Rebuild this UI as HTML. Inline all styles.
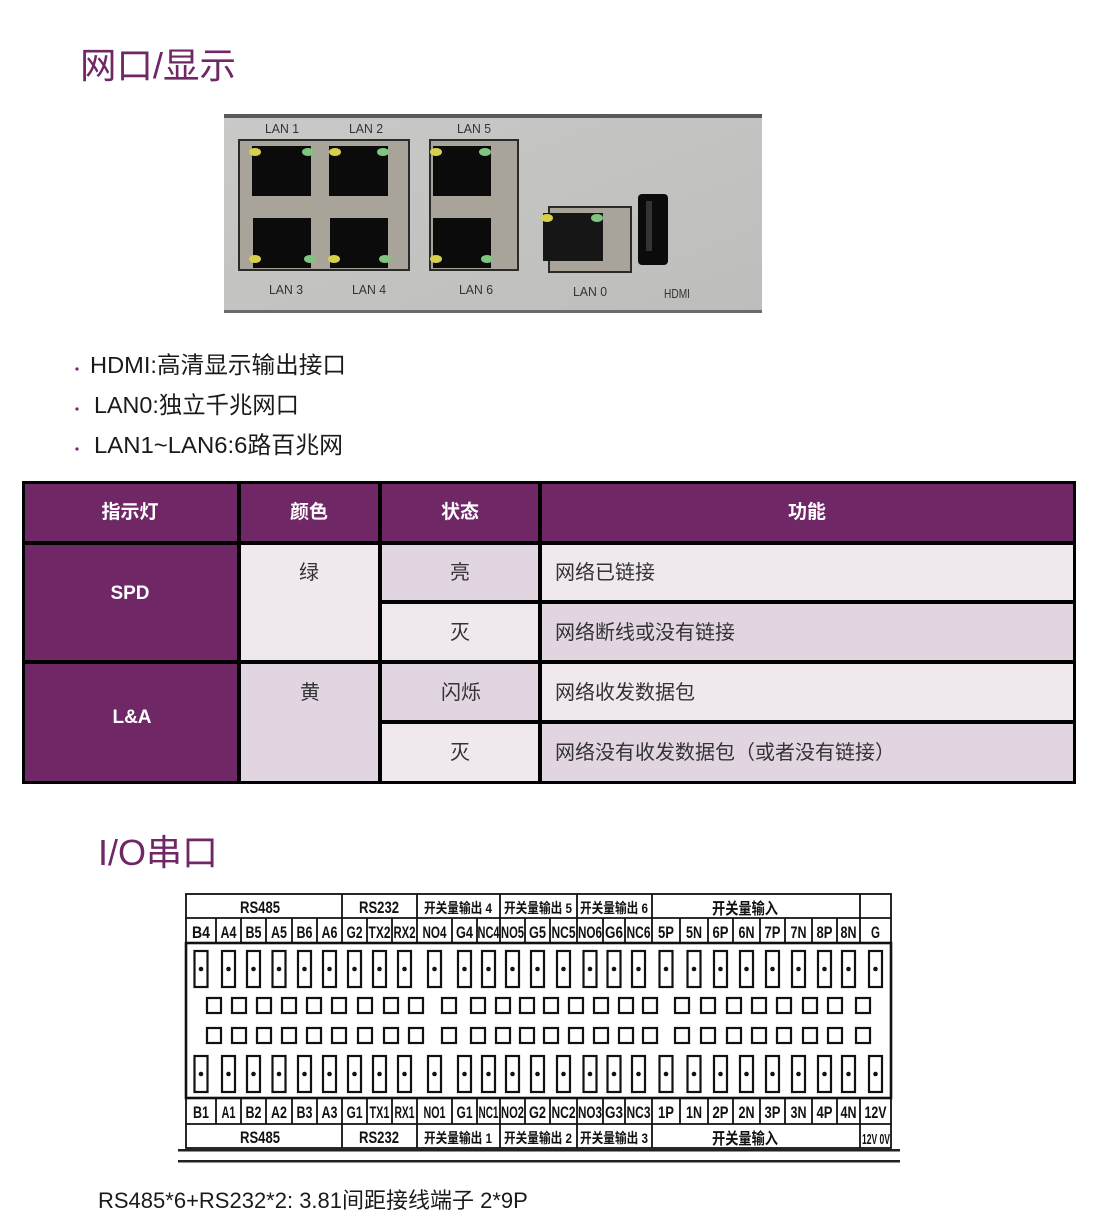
<!DOCTYPE html>
<html><head><meta charset="utf-8"><style>
html,body{margin:0;padding:0;background:#fff}
body{width:1095px;height:1231px;position:relative;overflow:hidden;font-family:"Liberation Sans","Noto Sans CJK SC",sans-serif}
</style></head><body>
<svg width="1095" height="1231" viewBox="0 0 1095 1231" xmlns="http://www.w3.org/2000/svg" style="position:absolute;left:0;top:0">
<defs>
<linearGradient id="pg" x1="0" y1="0" x2="1" y2="1"><stop offset="0" stop-color="#c9c9c7"/><stop offset="1" stop-color="#bdbdbb"/></linearGradient>
<g id="t"><rect x="-6.5" y="0" width="13" height="36" fill="#fff" stroke="#111" stroke-width="2.2"/><circle cx="0" cy="18" r="2.3" fill="#111"/></g>
<g id="s"><rect x="-7" y="0" width="14" height="15" fill="#fff" stroke="#111" stroke-width="2.2"/></g>
</defs>
<text x="80" y="78" font-size="36" fill="#6f2766" font-family="Liberation Sans, Noto Sans CJK SC, sans-serif" textLength="156" lengthAdjust="spacingAndGlyphs">网口/显示</text>
<text x="98" y="865" font-size="36" fill="#6f2766" font-family="Liberation Sans, Noto Sans CJK SC, sans-serif">I/O串口</text>
<rect x="224" y="114" width="538" height="199" fill="url(#pg)"/>
<rect x="224" y="114" width="538" height="4" fill="#5a5a5a"/>
<rect x="224" y="310" width="538" height="3" fill="#6a6a6a"/>
<g font-family="Liberation Sans, sans-serif" font-size="13" fill="#333" text-anchor="middle">
<text x="282" y="133" textLength="34" lengthAdjust="spacingAndGlyphs">LAN 1</text>
<text x="366" y="133" textLength="34" lengthAdjust="spacingAndGlyphs">LAN 2</text>
<text x="474" y="133" textLength="34" lengthAdjust="spacingAndGlyphs">LAN 5</text>
<text x="286" y="294" textLength="34" lengthAdjust="spacingAndGlyphs">LAN 3</text>
<text x="369" y="294" textLength="34" lengthAdjust="spacingAndGlyphs">LAN 4</text>
<text x="476" y="294" textLength="34" lengthAdjust="spacingAndGlyphs">LAN 6</text>
<text x="590" y="296" textLength="34" lengthAdjust="spacingAndGlyphs">LAN 0</text>
<text x="677" y="298" textLength="26" lengthAdjust="spacingAndGlyphs">HDMI</text>
</g>
<rect x="239" y="140" width="170" height="130" fill="#a8a49a" stroke="#2a2a2a" stroke-width="2"/>
<rect x="430" y="140" width="88" height="130" fill="#a8a49a" stroke="#2a2a2a" stroke-width="2"/>
<rect x="549" y="207" width="82" height="65" fill="#a8a49a" stroke="#2a2a2a" stroke-width="2"/>
<g fill="#0b0b0b">
<rect x="252" y="146" width="59" height="50"/><rect x="329" y="146" width="59" height="50"/>
<rect x="253" y="218" width="58" height="50"/><rect x="330" y="218" width="58" height="50"/>
<rect x="433" y="146" width="58" height="50"/><rect x="433" y="218" width="58" height="50"/>
<rect x="543" y="213" width="60" height="48" fill="#161616"/>
<rect x="638" y="194" width="30" height="71" rx="4"/>
</g>
<rect x="646" y="201" width="6" height="50" fill="#333"/>
<g fill="#d8d04a"><ellipse cx="255" cy="152" rx="6" ry="4"/><ellipse cx="335" cy="152" rx="6" ry="4"/><ellipse cx="436" cy="152" rx="6" ry="4"/><ellipse cx="255" cy="259" rx="6" ry="4"/><ellipse cx="334" cy="259" rx="6" ry="4"/><ellipse cx="436" cy="259" rx="6" ry="4"/><ellipse cx="547" cy="218" rx="6" ry="4"/></g>
<g fill="#7fc47f"><ellipse cx="308" cy="152" rx="6" ry="4"/><ellipse cx="383" cy="152" rx="6" ry="4"/><ellipse cx="485" cy="152" rx="6" ry="4"/><ellipse cx="310" cy="259" rx="6" ry="4"/><ellipse cx="385" cy="259" rx="6" ry="4"/><ellipse cx="487" cy="259" rx="6" ry="4"/><ellipse cx="597" cy="218" rx="6" ry="4"/></g>
<g fill="#6f2766"><circle cx="77" cy="369" r="1.6"/><circle cx="77" cy="409" r="1.6"/><circle cx="77" cy="449" r="1.6"/></g>
<g font-size="23.5" fill="#1a1a1a" font-family="Liberation Sans, Noto Sans CJK SC, sans-serif">
<text x="90" y="373" textLength="256" lengthAdjust="spacingAndGlyphs">HDMI:高清显示输出接口</text>
<text x="94" y="413" textLength="205" lengthAdjust="spacingAndGlyphs">LAN0:独立千兆网口</text>
<text x="94" y="453" textLength="249" lengthAdjust="spacingAndGlyphs">LAN1~LAN6:6路百兆网</text>
</g>
<rect x="22" y="481" width="1054" height="303" fill="#000"/>
<g fill="#6f2766">
<rect x="25" y="484" width="212" height="57"/><rect x="241" y="484" width="137" height="57"/><rect x="382" y="484" width="156" height="57"/><rect x="542" y="484" width="531" height="57"/>
<rect x="25" y="545" width="212" height="115"/><rect x="25" y="664" width="212" height="117"/>
</g>
<g fill="#f0e8ef"><rect x="241" y="545" width="137" height="115"/><rect x="542" y="545" width="531" height="55"/><rect x="382" y="604" width="156" height="56"/><rect x="542" y="664" width="531" height="56"/><rect x="382" y="724" width="156" height="57"/></g>
<g fill="#e2d5e2"><rect x="382" y="545" width="156" height="55"/><rect x="542" y="604" width="531" height="56"/><rect x="241" y="664" width="137" height="117"/><rect x="382" y="664" width="156" height="56"/><rect x="542" y="724" width="531" height="57"/></g>
<g font-family="Liberation Sans, Noto Sans CJK SC, sans-serif" font-weight="bold" font-size="19" fill="#fff" text-anchor="middle">
<text x="130" y="518">指示灯</text><text x="309" y="518">颜色</text><text x="460" y="518">状态</text><text x="807" y="518">功能</text>
<text x="130" y="599">SPD</text><text x="132" y="723">L&amp;A</text>
</g>
<g font-family="Liberation Sans, Noto Sans CJK SC, sans-serif" font-size="20" fill="#333">
<g text-anchor="middle"><text x="309" y="579">绿</text><text x="310" y="699">黄</text><text x="460" y="579">亮</text><text x="460" y="639">灭</text><text x="461" y="699">闪烁</text><text x="460" y="759">灭</text></g>
<text x="555" y="579">网络已链接</text><text x="555" y="639">网络断线或没有链接</text><text x="555" y="699">网络收发数据包</text><text x="555" y="759">网络没有收发数据包（或者没有链接）</text>
</g>
<g stroke="#111" fill="none" stroke-width="1.8">
<rect x="186" y="894" width="705" height="254"/>
<line x1="186" y1="918" x2="891" y2="918"/><line x1="186" y1="1124" x2="891" y2="1124"/>
<rect x="186" y="943" width="705" height="155" stroke-width="2.6"/>
<path d="M342 894V918M417 894V918M500 894V918M577 894V918M652 894V918M860 894V918M342 1124V1148M417 1124V1148M500 1124V1148M577 1124V1148M652 1124V1148M860 1124V1148"/>
<path d="M216 918V943M241 918V943M266 918V943M292 918V943M317 918V943M342 918V943M367 918V943M392 918V943M417 918V943M452 918V943M477 918V943M500 918V943M525 918V943M550 918V943M577 918V943M603 918V943M625 918V943M652 918V943M680 918V943M708 918V943M733 918V943M760 918V943M785 918V943M812 918V943M837 918V943M860 918V943"/>
<path d="M216 1098V1124M241 1098V1124M266 1098V1124M292 1098V1124M317 1098V1124M342 1098V1124M367 1098V1124M392 1098V1124M417 1098V1124M452 1098V1124M477 1098V1124M500 1098V1124M525 1098V1124M550 1098V1124M577 1098V1124M603 1098V1124M625 1098V1124M652 1098V1124M680 1098V1124M708 1098V1124M733 1098V1124M760 1098V1124M785 1098V1124M812 1098V1124M837 1098V1124M860 1098V1124"/>
</g>
<rect x="178" y="1149" width="722" height="2.5" fill="#222"/>
<rect x="178" y="1160" width="722" height="2.5" fill="#222"/>
<g id="row1">
<use href="#t" x="201" y="951"/><use href="#t" x="228.5" y="951"/><use href="#t" x="253.5" y="951"/><use href="#t" x="279" y="951"/><use href="#t" x="304.5" y="951"/><use href="#t" x="329.5" y="951"/><use href="#t" x="354.5" y="951"/><use href="#t" x="379.5" y="951"/><use href="#t" x="404.5" y="951"/><use href="#t" x="434.5" y="951"/><use href="#t" x="464.5" y="951"/><use href="#t" x="488.5" y="951"/><use href="#t" x="512.5" y="951"/><use href="#t" x="537.5" y="951"/><use href="#t" x="563.5" y="951"/><use href="#t" x="590" y="951"/><use href="#t" x="614" y="951"/><use href="#t" x="638.5" y="951"/><use href="#t" x="666" y="951"/><use href="#t" x="694" y="951"/><use href="#t" x="720.5" y="951"/><use href="#t" x="746.5" y="951"/><use href="#t" x="772.5" y="951"/><use href="#t" x="798.5" y="951"/><use href="#t" x="824.5" y="951"/><use href="#t" x="848.5" y="951"/><use href="#t" x="875.5" y="951"/>
</g>
<use href="#row1" x="0" y="105"/>
<g id="row2">
<use href="#s" x="214" y="998"/><use href="#s" x="239" y="998"/><use href="#s" x="264" y="998"/><use href="#s" x="289" y="998"/><use href="#s" x="314" y="998"/><use href="#s" x="339" y="998"/><use href="#s" x="365" y="998"/><use href="#s" x="391" y="998"/><use href="#s" x="416" y="998"/><use href="#s" x="449" y="998"/><use href="#s" x="478" y="998"/><use href="#s" x="503" y="998"/><use href="#s" x="527" y="998"/><use href="#s" x="551" y="998"/><use href="#s" x="576" y="998"/><use href="#s" x="601" y="998"/><use href="#s" x="626" y="998"/><use href="#s" x="650" y="998"/><use href="#s" x="682" y="998"/><use href="#s" x="708" y="998"/><use href="#s" x="734" y="998"/><use href="#s" x="759" y="998"/><use href="#s" x="784" y="998"/><use href="#s" x="810" y="998"/><use href="#s" x="835" y="998"/><use href="#s" x="863" y="998"/>
</g>
<use href="#row2" x="0" y="30"/>
<g font-family="Liberation Sans, Noto Sans CJK SC, sans-serif" font-weight="bold" font-size="17" fill="#111" text-anchor="middle">
<text x="260" y="913" textLength="40" lengthAdjust="spacingAndGlyphs">RS485</text>
<text x="379" y="913" textLength="40" lengthAdjust="spacingAndGlyphs">RS232</text>
<text x="458" y="913" textLength="68" lengthAdjust="spacingAndGlyphs" font-size="14">开关量输出 4</text>
<text x="538" y="913" textLength="68" lengthAdjust="spacingAndGlyphs" font-size="14">开关量输出 5</text>
<text x="614" y="913" textLength="68" lengthAdjust="spacingAndGlyphs" font-size="14">开关量输出 6</text>
<text x="745" y="914" textLength="66" lengthAdjust="spacingAndGlyphs" font-size="16">开关量输入</text>
<text x="260" y="1143" textLength="40" lengthAdjust="spacingAndGlyphs">RS485</text>
<text x="379" y="1143" textLength="40" lengthAdjust="spacingAndGlyphs">RS232</text>
<text x="458" y="1143" textLength="68" lengthAdjust="spacingAndGlyphs" font-size="14">开关量输出 1</text>
<text x="538" y="1143" textLength="68" lengthAdjust="spacingAndGlyphs" font-size="14">开关量输出 2</text>
<text x="614" y="1143" textLength="68" lengthAdjust="spacingAndGlyphs" font-size="14">开关量输出 3</text>
<text x="745" y="1144" textLength="66" lengthAdjust="spacingAndGlyphs" font-size="16">开关量输入</text>
<text x="876" y="1144" textLength="28" lengthAdjust="spacingAndGlyphs" font-size="15">12V 0V</text>
</g>
<g font-family="Liberation Sans, sans-serif" font-weight="bold" font-size="17" fill="#111" text-anchor="middle">
<text x="201" y="938" textLength="18" lengthAdjust="spacingAndGlyphs">B4</text><text x="228.5" y="938" textLength="16" lengthAdjust="spacingAndGlyphs">A4</text><text x="253.5" y="938" textLength="16" lengthAdjust="spacingAndGlyphs">B5</text><text x="279" y="938" textLength="16" lengthAdjust="spacingAndGlyphs">A5</text><text x="304.5" y="938" textLength="16" lengthAdjust="spacingAndGlyphs">B6</text><text x="329.5" y="938" textLength="16" lengthAdjust="spacingAndGlyphs">A6</text><text x="354.5" y="938" textLength="16" lengthAdjust="spacingAndGlyphs">G2</text><text x="379.5" y="938" textLength="22" lengthAdjust="spacingAndGlyphs">TX2</text><text x="404.5" y="938" textLength="22" lengthAdjust="spacingAndGlyphs">RX2</text><text x="434.5" y="938" textLength="24" lengthAdjust="spacingAndGlyphs">NO4</text><text x="464.5" y="938" textLength="17" lengthAdjust="spacingAndGlyphs">G4</text><text x="488.5" y="938" textLength="22" lengthAdjust="spacingAndGlyphs">NC4</text><text x="512.5" y="938" textLength="23" lengthAdjust="spacingAndGlyphs">NO5</text><text x="537.5" y="938" textLength="17" lengthAdjust="spacingAndGlyphs">G5</text><text x="563.5" y="938" textLength="24" lengthAdjust="spacingAndGlyphs">NC5</text><text x="590" y="938" textLength="24" lengthAdjust="spacingAndGlyphs">NO6</text><text x="614" y="938" textLength="18" lengthAdjust="spacingAndGlyphs">G6</text><text x="638.5" y="938" textLength="24" lengthAdjust="spacingAndGlyphs">NC6</text><text x="666" y="938" textLength="16" lengthAdjust="spacingAndGlyphs">5P</text><text x="694" y="938" textLength="16" lengthAdjust="spacingAndGlyphs">5N</text><text x="720.5" y="938" textLength="16" lengthAdjust="spacingAndGlyphs">6P</text><text x="746.5" y="938" textLength="16" lengthAdjust="spacingAndGlyphs">6N</text><text x="772.5" y="938" textLength="16" lengthAdjust="spacingAndGlyphs">7P</text><text x="798.5" y="938" textLength="16" lengthAdjust="spacingAndGlyphs">7N</text><text x="824.5" y="938" textLength="16" lengthAdjust="spacingAndGlyphs">8P</text><text x="848.5" y="938" textLength="16" lengthAdjust="spacingAndGlyphs">8N</text><text x="875.5" y="938" textLength="9" lengthAdjust="spacingAndGlyphs">G</text>
<text x="201" y="1118" textLength="16" lengthAdjust="spacingAndGlyphs">B1</text><text x="228.5" y="1118" textLength="14" lengthAdjust="spacingAndGlyphs">A1</text><text x="253.5" y="1118" textLength="16" lengthAdjust="spacingAndGlyphs">B2</text><text x="279" y="1118" textLength="16" lengthAdjust="spacingAndGlyphs">A2</text><text x="304.5" y="1118" textLength="16" lengthAdjust="spacingAndGlyphs">B3</text><text x="329.5" y="1118" textLength="16" lengthAdjust="spacingAndGlyphs">A3</text><text x="354.5" y="1118" textLength="16" lengthAdjust="spacingAndGlyphs">G1</text><text x="379.5" y="1118" textLength="20" lengthAdjust="spacingAndGlyphs">TX1</text><text x="404.5" y="1118" textLength="20" lengthAdjust="spacingAndGlyphs">RX1</text><text x="434.5" y="1118" textLength="22" lengthAdjust="spacingAndGlyphs">NO1</text><text x="464.5" y="1118" textLength="16" lengthAdjust="spacingAndGlyphs">G1</text><text x="488.5" y="1118" textLength="20" lengthAdjust="spacingAndGlyphs">NC1</text><text x="512.5" y="1118" textLength="23" lengthAdjust="spacingAndGlyphs">NO2</text><text x="537.5" y="1118" textLength="17" lengthAdjust="spacingAndGlyphs">G2</text><text x="563.5" y="1118" textLength="24" lengthAdjust="spacingAndGlyphs">NC2</text><text x="590" y="1118" textLength="24" lengthAdjust="spacingAndGlyphs">NO3</text><text x="614" y="1118" textLength="18" lengthAdjust="spacingAndGlyphs">G3</text><text x="638.5" y="1118" textLength="24" lengthAdjust="spacingAndGlyphs">NC3</text><text x="666" y="1118" textLength="16" lengthAdjust="spacingAndGlyphs">1P</text><text x="694" y="1118" textLength="16" lengthAdjust="spacingAndGlyphs">1N</text><text x="720.5" y="1118" textLength="16" lengthAdjust="spacingAndGlyphs">2P</text><text x="746.5" y="1118" textLength="16" lengthAdjust="spacingAndGlyphs">2N</text><text x="772.5" y="1118" textLength="16" lengthAdjust="spacingAndGlyphs">3P</text><text x="798.5" y="1118" textLength="16" lengthAdjust="spacingAndGlyphs">3N</text><text x="824.5" y="1118" textLength="16" lengthAdjust="spacingAndGlyphs">4P</text><text x="848.5" y="1118" textLength="16" lengthAdjust="spacingAndGlyphs">4N</text><text x="875.5" y="1118" textLength="22" lengthAdjust="spacingAndGlyphs">12V</text>
</g>
<text x="98" y="1208" font-size="22" fill="#1a1a1a" font-family="Liberation Sans, Noto Sans CJK SC, sans-serif">RS485*6+RS232*2: 3.81间距接线端子 2*9P</text>
</svg>
</body></html>
